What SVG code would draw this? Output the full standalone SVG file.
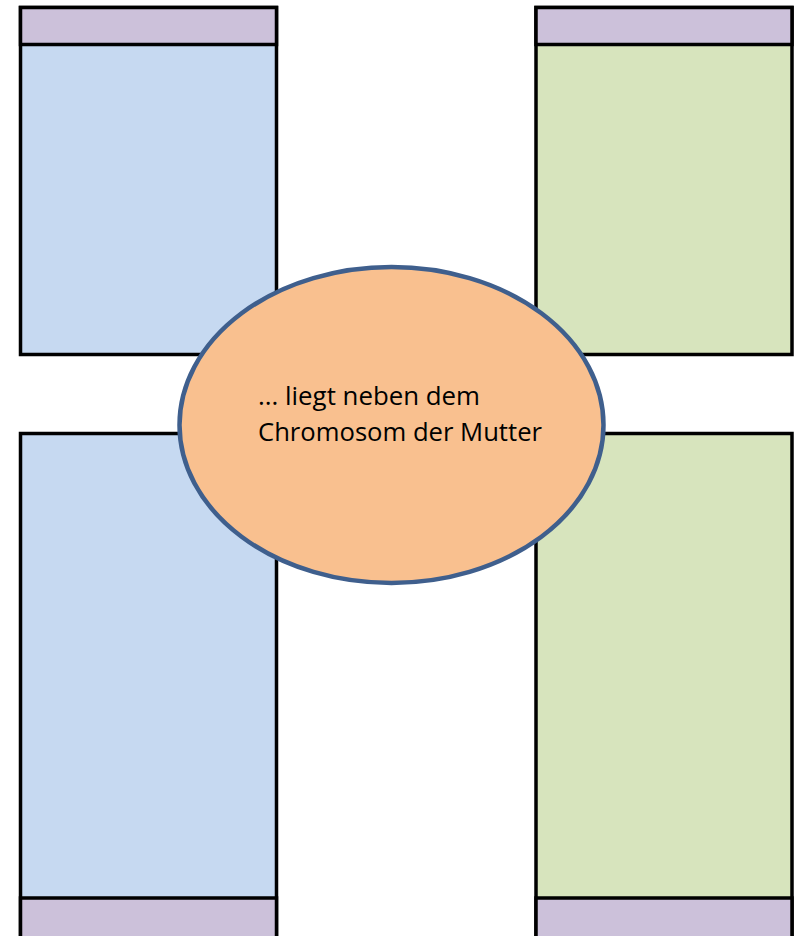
<svg xmlns="http://www.w3.org/2000/svg" width="799" height="936" viewBox="0 0 799 936">
<style>
.r{stroke:#000;stroke-width:3.5}
.blue{fill:#C6D9F1}
.green{fill:#D7E4BD}
.purple{fill:#CCC1DA}
.t{font-family:"Open Sans","Liberation Sans",sans-serif;font-size:25px;fill:#000}
</style>
<rect width="799" height="936" fill="#fff"/>
<g id="top-left">
<rect class="r blue" x="20.5" y="7.5" width="256" height="347"/>
<rect class="r purple" x="20.5" y="7.5" width="256" height="37"/>
</g>
<g id="top-right">
<rect class="r green" x="536" y="7.5" width="256" height="347"/>
<rect class="r purple" x="536" y="7.5" width="256" height="37"/>
</g>
<g id="bottom-left">
<rect class="r blue" x="20.5" y="433.5" width="256" height="510"/>
<rect class="r purple" x="20.5" y="898" width="256" height="45"/>
</g>
<g id="bottom-right">
<rect class="r green" x="536" y="433.5" width="256" height="510"/>
<rect class="r purple" x="536" y="898" width="256" height="45"/>
</g>
<g id="center">
<ellipse cx="391.5" cy="425" rx="212" ry="158" fill="#F9C08F" stroke="#3F5F8D" stroke-width="4.5"/>
<text class="t" x="258" y="405" textLength="222" lengthAdjust="spacingAndGlyphs">... liegt neben dem</text>
<text class="t" x="258" y="441" textLength="284" lengthAdjust="spacingAndGlyphs">Chromosom der Mutter</text>
</g>
<g id="connectors"></g>
</svg>
